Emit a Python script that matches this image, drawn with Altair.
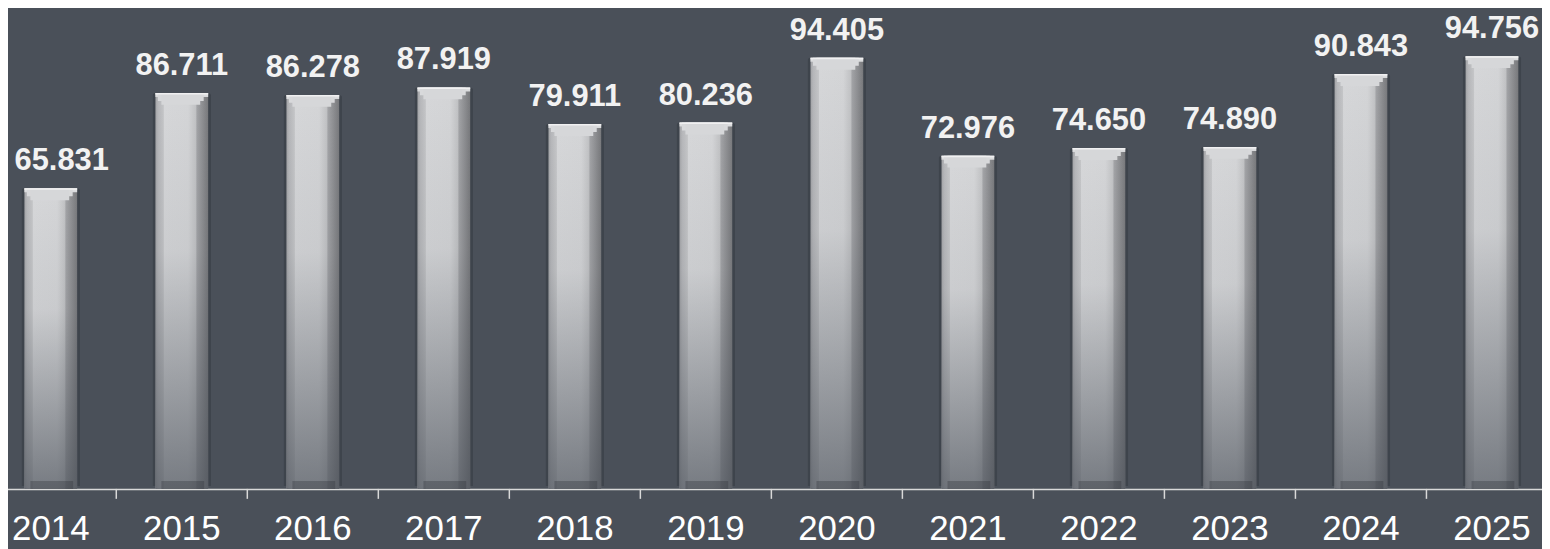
import altair as alt
import pandas as pd

years = ["2014", "2015", "2016", "2017", "2018", "2019", "2020", "2021", "2022", "2023", "2024", "2025"]
values = [65.831, 86.711, 86.278, 87.919, 79.911, 80.236, 94.405, 72.976, 74.650, 74.890, 90.843, 94.756]

df = pd.DataFrame({"year": years, "value": values})

BG = "#4a5059"
FONT = "Liberation Sans"
BW = 53

xscale = alt.Scale(range=[-22.85, 1557.55], paddingInner=0, paddingOuter=0)
yscale = alt.Scale(domain=[0, 105], nice=False)

x_axis = alt.Axis(
    title=None, ticks=False, tickSize=0, labelAngle=0,
    labelFont=FONT, labelFontSize=35, labelColor="#ffffff",
    labelPadding=23, domainColor="#d9d9d9", domainWidth=1.5,
    labelOverlap=False,
)

base = alt.Chart(df)
X = alt.X("year:O", sort=None)
Y = alt.Y("value:Q")

bar_grad = alt.Gradient(
    gradient="linear", x1=0, x2=1, y1=0, y2=0,
    stops=[
        alt.GradientStop(offset=0.0, color="#a3a4a7"),
        alt.GradientStop(offset=0.05, color="#b6b7ba"),
        alt.GradientStop(offset=0.15, color="#c4c5c7"),
        alt.GradientStop(offset=0.17, color="#d6d7d9"),
        alt.GradientStop(offset=0.62, color="#d4d5d7"),
        alt.GradientStop(offset=0.76, color="#c2c3c5"),
        alt.GradientStop(offset=0.79, color="#a2a3a6"),
        alt.GradientStop(offset=1.0, color="#78797c"),
    ],
)

fade_grad = alt.Gradient(
    gradient="linear", x1=0, x2=0, y1=0, y2=1,
    stops=[
        alt.GradientStop(offset=0.0, color="rgba(74,80,89,0)"),
        alt.GradientStop(offset=0.4, color="rgba(74,80,89,0.08)"),
        alt.GradientStop(offset=1.0, color="rgba(74,80,89,0.68)"),
    ],
)

halo = base.mark_bar(width=BW + 6, color="rgba(25,28,33,0.22)", yOffset=-3, cornerRadius=3).encode(
    x=alt.X("year:O", scale=xscale, axis=x_axis, sort=None),
    y=alt.Y("value:Q", scale=yscale, axis=None),
)

bars = base.mark_bar(width=BW, color=bar_grad).encode(x=X, y=Y)

fade = base.mark_bar(width=BW, color=fade_grad).encode(x=X, y=Y)

cap_color = alt.Gradient(
    gradient="linear", x1=0, x2=0, y1=0, y2=1,
    stops=[
        alt.GradientStop(offset=0.0, color="#e6e7e8"),
        alt.GradientStop(offset=1.0, color="#d7d8da"),
    ],
)

cap1 = base.mark_bar(width=BW, color=cap_color, y2Offset=4).encode(x=X, y=Y, y2=alt.Y2("value:Q"))
cap2 = base.mark_bar(width=BW - 7, color="#d8d9db", xOffset=-1, y2Offset=8).encode(x=X, y=Y, y2=alt.Y2("value:Q"))
cap3 = base.mark_bar(width=BW - 14, color="#d6d7d9", xOffset=-1, y2Offset=12).encode(x=X, y=Y, y2=alt.Y2("value:Q"))
topline = base.mark_bar(width=BW, color="#f0f0f1", y2Offset=1.5).encode(x=X, y=Y, y2=alt.Y2("value:Q"))

bottom = base.mark_bar(width=BW - 10, color="rgba(40,44,50,0.30)", xOffset=1, y2Offset=-8).encode(
    x=X,
    y=alt.Y(datum=0),
    y2=alt.Y2(datum=0),
)

ticks = base.mark_rule(color="#d9d9d9", strokeWidth=1.5).encode(
    x=alt.X("year:O", sort=None, bandPosition=0),
    y=alt.value(482),
    y2=alt.value(492),
)

label_style = dict(
    font=FONT, fontSize=31, fontWeight="bold", color="#f2f2f2",
    baseline="alphabetic", align="center", dy=-18,
)

labels = base.mark_text(**label_style).encode(
    x=X, y=Y, text=alt.Text("value:Q", format=".3f"),
).transform_filter(alt.datum.year != "2014")

first_label = base.mark_text(dx=11, **label_style).encode(
    x=X, y=Y, text=alt.Text("value:Q", format=".3f"),
).transform_filter(alt.datum.year == "2014")

chart = alt.layer(halo, bars, fade, cap1, cap2, cap3, topline, bottom, ticks, labels, first_label).properties(
    width=1542, height=482,
    autosize="none",
    padding={"left": 0, "right": 0, "top": 0, "bottom": 59},
    background=BG,
).configure_view(stroke=None)

chart.save("out.html", embed_options={"renderer": "svg", "actions": False})
